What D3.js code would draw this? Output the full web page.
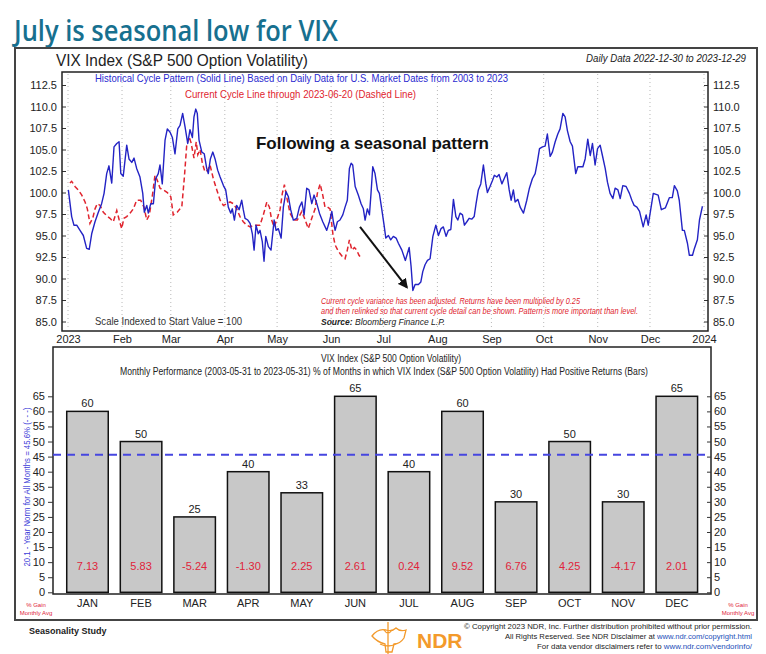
<!DOCTYPE html>
<html><head><meta charset="utf-8">
<script src="https://cdn.jsdelivr.net/npm/d3@7"></script>
<style>
body{margin:0;background:#fff;}
svg{display:block;font-family:"Liberation Sans",Arial,sans-serif;}
</style>
</head><body>
<svg id="c" width="766" height="654"></svg>
<script>
// ---------------- DATA ----------------
// Historical cycle pattern (solid) : [day of year 2023, indexed value]
const historicalCycle = [[0.2,100.3],[2.1,97.2],[3.4,96.2],[5,96.2],[6.9,95.6],[8.8,95.0],[10.7,93.5],[12.2,93.4],[13.6,95.2],[15.5,96.6],[17.4,97.7],[19.3,98.7],[20.7,99.9],[22.2,102.2],[23.5,103.1],[25.1,101.1],[26.4,105.3],[28,105.7],[29.3,105.9],[30.3,102.2],[31.7,101.9],[33.7,105.5],[35,103.9],[36.6,103.5],[37.9,104.0],[39.4,102.8],[41.3,101.8],[42.9,99.9],[43.8,97.7],[45.2,98.5],[46.1,97.6],[47.5,98.7],[49,98.7],[50.3,101.6],[51.8,102.2],[52.8,103.2],[54.1,101.0],[55.7,106.1],[57,107.4],[58.6,107.0],[59.9,106.4],[61.4,104.5],[63,107.4],[64.3,107.8],[65.8,109.2],[67.2,107.6],[68.7,105.7],[70,107.3],[71.4,106.4],[72.3,108.8],[73.3,109.7],[74.2,109.2],[75.2,106.1],[76.8,104.7],[78.2,104.5],[79.6,102.8],[80.5,102.2],[81.7,103.9],[83.1,104.7],[84.4,103.9],[85.9,102.6],[87.3,101.8],[89.2,100.8],[90.5,100.3],[92,98.3],[93.4,97.6],[94.3,98.1],[95.5,96.8],[96.8,98.5],[98.2,98.0],[99.7,99.1],[100.6,98.0],[101.6,97.0],[103.2,96.8],[104.5,96.4],[105.8,95.2],[106.8,93.3],[107.9,96.2],[109.2,95.2],[110.2,95.6],[111.5,94.3],[112.5,92.0],[113.5,94.9],[115,93.7],[116.5,93.3],[118.3,96.8],[119.4,95.6],[120.7,95.8],[122.3,94.7],[123.6,98.3],[125.1,100.1],[126.5,99.5],[127.8,98.0],[129.3,96.8],[131.3,97.0],[132.8,98.3],[134.2,98.9],[135.5,97.4],[137,100.5],[138.3,100.3],[139.9,98.7],[141.2,99.7],[142.8,98.7],[144.3,97.6],[146.2,96.6],[148.5,95.6],[150,96.6],[151.4,97.8],[152.3,96.6],[153.3,95.6],[154.6,96.6],[156.1,96.8],[157.7,97.4],[159,98.3],[160.3,99.1],[161.5,102.8],[162.5,103.4],[163.4,103.2],[164.8,100.7],[166.6,99.7],[168.2,98.7],[169.5,98.1],[170.5,96.8],[171.8,98.1],[173,97.4],[173.9,99.9],[174.9,103.0],[176.2,102.2],[177.6,100.3],[178.7,99.9],[180.1,98.0],[181.4,96.2],[182.4,94.7],[183.9,95.0],[185.2,94.5],[186.7,94.9],[188.3,94.7],[189.6,94.1],[191.6,93.3],[193.6,92.1],[195.8,93.6],[196.9,91.4],[197.9,88.6],[199.2,89.3],[201.1,89.3],[202.5,89.6],[203.6,90.8],[204.9,91.6],[206.3,92.1],[207.8,92.3],[209.4,94.9],[211.1,96.2],[212.6,95.0],[214.1,95.8],[215.4,96.0],[217,94.9],[218.3,95.6],[219.7,95.7],[221.2,99.2],[222.6,97.2],[223.7,96.8],[225,97.6],[226.4,97.4],[227.5,96.2],[228.9,96.6],[230.2,97.0],[231.7,96.9],[233.1,97.2],[234.2,98.7],[235.5,100.3],[236.9,101.0],[238.4,103.2],[239.8,101.0],[240.7,100.0],[242.2,100.7],[243.6,101.4],[244.7,102.0],[246.1,101.8],[247.4,102.1],[249,101.0],[250.3,101.6],[251.8,102.3],[253.2,100.3],[254.3,99.1],[255.6,100.3],[256.6,98.9],[258.2,99.2],[259.5,98.3],[261.4,97.6],[263.3,99.1],[264.8,100.5],[266.5,101.6],[268.1,102.2],[269.4,103.6],[270.6,105.1],[272.3,105.3],[273.8,105.4],[275.1,106.8],[276.7,104.2],[278,104.7],[279.6,105.9],[281.1,106.8],[282.4,107.4],[284,109.2],[285.3,108.8],[286.6,107.2],[288.2,105.9],[289.5,105.4],[290.5,103.7],[291.4,102.2],[292.6,103.0],[293.9,103.0],[295.5,103.0],[296.8,103.9],[298.3,106.2],[299.7,104.3],[301,105.7],[302.5,103.2],[303.9,105.1],[305.4,105.5],[306.7,104.3],[308.3,102.8],[309.6,101.2],[311.1,99.9],[312.7,99.3],[314,100.5],[315.6,100.3],[316.9,99.3],[318.4,100.8],[320.3,100.7],[322.2,99.9],[323.6,99.1],[324.9,98.5],[326.5,98.3],[328,97.8],[330.1,96.0],[331.8,97.4],[333,96.2],[335.9,99.9],[338.7,99.7],[340.5,98.0],[342.8,98.2],[345.1,99.4],[346.8,99.4],[348,100.8],[349.7,100.2],[350.8,99.1],[352.6,95.6],[353.7,95.6],[355.5,94.1],[356.6,92.7],[358.4,92.7],[359.5,93.5],[361.2,94.5],[362.4,96.8],[364.1,98.4]];

// Current cycle through 2023-06-20 (dashed) : [day of year 2023, indexed value]
const currentCycle = [[1.1,101.1],[2.1,101.3],[4,100.7],[5.9,100.3],[7.9,99.7],[9.8,98.9],[11.1,98.1],[12.6,96.4],[14.2,97.0],[15.5,98.1],[16.8,98.7],[18.4,98.5],[20.3,97.7],[22.2,97.3],[24.1,97.0],[26,96.6],[28,97.9],[29.4,96.8],[30.8,95.8],[32.1,97.0],[33.7,97.2],[35.6,97.6],[37.5,98.1],[39.4,99.1],[41.7,99.1],[43.6,98.3],[45.2,96.8],[46.7,97.4],[48.6,99.9],[49.9,102.0],[51.3,101.4],[52.8,100.5],[54.7,100.3],[57,100.0],[59,99.5],[60.4,97.4],[62.7,97.7],[64.3,98.1],[65.3,98.3],[66.8,101.8],[68.1,105.4],[69.5,106.5],[70.6,105.8],[72.3,104.0],[73.6,105.9],[74.5,104.4],[75.8,105.0],[77.1,103.4],[78.6,102.4],[80.2,102.6],[81.5,103.2],[83.4,101.6],[85.4,100.3],[87.3,99.1],[89.2,98.5],[91.1,98.7],[93,98.9],[94.9,98.7],[96.8,98.1],[98.7,97.2],[100.6,96.6],[102.6,96.2],[104.5,96.0],[106.4,96.2],[108.3,96.2],[110.2,96.2],[112.1,97.4],[114.1,98.9],[115.6,98.3],[116.9,96.8],[118.3,96.0],[119.8,96.8],[121.7,98.0],[123,99.9],[124.2,100.9],[125.5,99.5],[127.4,97.6],[129.7,96.8],[131.6,96.8],[134.2,97.8],[136.1,96.8],[137.9,95.8],[139.9,97.0],[141.8,98.1],[143.1,99.9],[144.7,101.0],[146.2,99.7],[147.5,98.3],[148.9,98.3],[150.4,98.1],[152,95.2],[153.3,93.9],[154.8,93.3],[156.1,92.9],[157.7,92.5],[159,92.3],[160.3,93.3],[161.5,94.5],[162.9,93.3],[164.4,93.6],[165.7,93.3],[167,92.7],[168.6,92.3]];

const topTicks = [85.0,87.5,90.0,92.5,95.0,97.5,100.0,102.5,105.0,107.5,110.0,112.5];
const monthTickLabels = ["2023","Feb","Mar","Apr","May","Jun","Jul","Aug","Sep","Oct","Nov","Dec","2024"];

const months = ["JAN","FEB","MAR","APR","MAY","JUN","JUL","AUG","SEP","OCT","NOV","DEC"];
const pctPositive = [60,50,25,40,33,65,40,60,30,50,30,65];
const avgGain = ["7.13","5.83","-5.24","-1.30","2.25","2.61","0.24","9.52","6.76","4.25","-4.17","2.01"];
const normPct = 45.6;
const barTicks = [0,5,10,15,20,25,30,35,40,45,50,55,60,65];
// arrow annotation endpoints in data units [day, value]
const arrowFrom = [167.6, 96.0], arrowTo = [194.4, 89.0];

// ---------------- DRAW ----------------
const svg = d3.select("#c");
const dayToDate = d => new Date(Date.UTC(2023,0,1) + d*86400000);

function fit(sel, w){ sel.attr("textLength", w).attr("lengthAdjust","spacingAndGlyphs"); return sel; }

// right-aligned line made of several coloured pieces, squeezed to a target width
function piecesLine(xr, yb, pieces, target, size){
  const els = pieces.map(p => svg.append("text").attr("y",yb).attr("font-size",size).attr("fill",p[1])
    .style("white-space","pre").text(p[0].replace(/ /g,"\u00a0")));
  const nat = els.map(e => e.node().getComputedTextLength());
  const tot = d3.sum(nat), k = target / tot;
  let cur = xr - target;
  els.forEach((e,i)=>{ const w = nat[i]*k; e.attr("x",cur); fit(e,w); cur += w; });
}

// Title
fit(svg.append("text").attr("x",14).attr("y",41).attr("fill","#17708f")
  .attr("font-family","'Open Sans',sans-serif").attr("font-weight",600).attr("font-size",29)
  .text("July is seasonal low for VIX"), 324);

// outer frame
svg.append("rect").attr("x",15).attr("y",48).attr("width",742).attr("height",572)
  .attr("fill","#fff").attr("stroke","#444").attr("stroke-width",2);

fit(svg.append("text").attr("x",56).attr("y",66).attr("fill","#222").attr("font-size",17)
  .text("VIX Index (S&P 500 Option Volatility)"), 252);
fit(svg.append("text").attr("x",586).attr("y",62).attr("fill","#222").attr("font-size",10)
  .attr("font-style","italic").text("Daily Data 2022-12-30 to 2023-12-29"), 160);

// ---- top line chart ----
const T = {l:62, r:708, t:72, b:331};
const x = d3.scaleUtc().domain([new Date(Date.UTC(2023,0,1)), new Date(Date.UTC(2024,0,1))]).range([68,704]);
const y = d3.scaleLinear().domain([85,112.5]).range([321.5,85]);
const monthDates = d3.utcMonth.range(new Date(Date.UTC(2023,0,1)), new Date(Date.UTC(2024,0,2)));

svg.append("g").selectAll("line").data(monthDates).join("line")
  .attr("x1",d=>x(d)).attr("x2",d=>x(d)).attr("y1",T.t+2).attr("y2",T.b-1)
  .attr("stroke","#b8b8b8").attr("stroke-dasharray","1,3");

const yl = svg.append("g").attr("transform",`translate(${T.l},0)`)
  .call(d3.axisLeft(y).tickValues(topTicks).tickFormat(d3.format(".1f")).tickSize(-4).tickPadding(5));
const yr = svg.append("g").attr("transform",`translate(${T.r},0)`)
  .call(d3.axisRight(y).tickValues(topTicks).tickFormat(d3.format(".1f")).tickSize(-4).tickPadding(5));
const xa = svg.append("g").attr("transform",`translate(0,${T.b})`)
  .call(d3.axisBottom(x).tickValues(monthDates).tickFormat((d,i)=>monthTickLabels[i]).tickSize(0).tickPadding(4));
[yl,yr,xa].forEach(g=>{
  g.select(".domain").remove();
  g.selectAll("text").attr("font-size",11).attr("fill","#222").attr("font-family","'Liberation Sans',Arial,sans-serif");
  g.selectAll("line").attr("stroke","#333");
});

svg.append("rect").attr("x",T.l).attr("y",T.t).attr("width",T.r-T.l).attr("height",T.b-T.t)
  .attr("fill","none").attr("stroke","#222").attr("stroke-width",1.5);

const line = d3.line().x(d=>x(dayToDate(d[0]))).y(d=>y(d[1]));
svg.append("path").datum(currentCycle).attr("d",line).attr("fill","none")
  .attr("stroke","#e0242e").attr("stroke-width",1.5).attr("stroke-dasharray","5,3");
svg.append("path").datum(historicalCycle).attr("d",line).attr("fill","none")
  .attr("stroke","#2323c4").attr("stroke-width",1.4).attr("stroke-linejoin","round");

fit(svg.append("text").attr("x",95).attr("y",82).attr("fill","#2a2ad0").attr("font-size",11)
  .text("Historical Cycle Pattern (Solid Line) Based on Daily Data for U.S. Market Dates from 2003 to 2023"), 413);
fit(svg.append("text").attr("x",185).attr("y",98).attr("fill","#e0242e").attr("font-size",11)
  .text("Current Cycle Line through 2023-06-20 (Dashed Line)"), 231);

fit(svg.append("text").attr("x",256).attr("y",149).attr("fill","#111").attr("font-size",17)
  .attr("font-weight","bold").text("Following a seasonal pattern"), 233);

// arrow
const defs = svg.append("defs");
defs.append("marker").attr("id","ah").attr("viewBox","0 0 10 10").attr("refX",8).attr("refY",5)
  .attr("markerWidth",5).attr("markerHeight",5).attr("orient","auto")
  .append("path").attr("d","M0,0L10,5L0,10z").attr("fill","#111");
svg.append("line").attr("x1",x(dayToDate(arrowFrom[0]))).attr("y1",y(arrowFrom[1]))
  .attr("x2",x(dayToDate(arrowTo[0]))).attr("y2",y(arrowTo[1]))
  .attr("stroke","#111").attr("stroke-width",2).attr("marker-end","url(#ah)");

fit(svg.append("text").attr("x",321).attr("y",304).attr("fill","#e0242e").attr("font-size",8.5).attr("font-style","italic")
  .text("Current cycle variance has been adjusted. Returns have been multiplied by 0.25"), 259);
fit(svg.append("text").attr("x",321).attr("y",314).attr("fill","#e0242e").attr("font-size",8.5).attr("font-style","italic")
  .text("and then relinked so that current cycle detail can be shown. Pattern is more important than level."), 317);
const src = svg.append("text").attr("x",321).attr("y",324.5).attr("fill","#222").attr("font-size",8.5).attr("font-style","italic");
src.append("tspan").attr("font-weight","bold").text("Source:");
src.append("tspan").text(" Bloomberg Finance L.P.");

fit(svg.append("text").attr("x",95).attr("y",325).attr("fill","#333").attr("font-size",11.5)
  .text("Scale Indexed to Start Value = 100"), 147);

// ---- bottom bar chart ----
const B = {l:53, r:711, t:347, b:594};
const yb = d3.scaleLinear().domain([0,65]).range([592.3,396.3]);
const xb = d3.scaleBand().domain(months).range([60.7,703.6]).paddingInner(0.225).paddingOuter(0.1125);

svg.append("rect").attr("x",B.l).attr("y",B.t).attr("width",B.r-B.l).attr("height",B.b-B.t)
  .attr("fill","#fff").attr("stroke","#222").attr("stroke-width",1.5);

fit(svg.append("text").attr("x",391).attr("y",362).attr("text-anchor","middle").attr("fill","#222").attr("font-size",10)
  .text("VIX Index (S&P 500 Option Volatility)"), 140);
fit(svg.append("text").attr("x",384).attr("y",375).attr("text-anchor","middle").attr("fill","#222").attr("font-size",10)
  .text("Monthly Performance (2003-05-31 to 2023-05-31) % of Months in which VIX Index (S&P 500 Option Volatility) Had Positive Returns (Bars)"), 528);

const bl = svg.append("g").attr("transform",`translate(${B.l},0)`)
  .call(d3.axisLeft(yb).tickValues(barTicks).tickSize(5).tickPadding(3));
const br = svg.append("g").attr("transform",`translate(${B.r},0)`)
  .call(d3.axisRight(yb).tickValues(barTicks).tickSize(-4).tickPadding(3));
[bl,br].forEach(g=>{
  g.select(".domain").remove();
  g.selectAll("text").attr("font-size",11).attr("fill","#222").attr("font-family","'Liberation Sans',Arial,sans-serif");
  g.selectAll("line").attr("stroke","#333");
});

svg.append("g").selectAll("rect").data(months).join("rect")
  .attr("x",d=>xb(d)).attr("width",xb.bandwidth())
  .attr("y",(d,i)=>yb(pctPositive[i])).attr("height",(d,i)=>yb(0)-yb(pctPositive[i]))
  .attr("fill","#c8c8c8").attr("stroke","#111").attr("stroke-width",1.5);

svg.append("g").selectAll("text").data(months).join("text")
  .attr("x",d=>xb(d)+xb.bandwidth()/2).attr("y",(d,i)=>yb(pctPositive[i])-4)
  .attr("text-anchor","middle").attr("font-size",11).attr("fill","#222")
  .text((d,i)=>pctPositive[i]);

svg.append("g").selectAll("text").data(months).join("text")
  .attr("x",d=>xb(d)+xb.bandwidth()/2).attr("y",yb(0)-22)
  .attr("text-anchor","middle").attr("font-size",11).attr("fill","#e0243a")
  .text((d,i)=>avgGain[i]);

svg.append("g").selectAll("text").data(months).join("text")
  .attr("x",d=>xb(d)+xb.bandwidth()/2).attr("y",607)
  .attr("text-anchor","middle").attr("font-size",11).attr("fill","#222")
  .text(d=>d);

svg.append("line").attr("x1",B.l).attr("x2",B.r).attr("y1",yb(normPct)).attr("y2",yb(normPct))
  .attr("stroke","#4646e0").attr("stroke-width",2).attr("stroke-dasharray","8,6");

fit(svg.append("text").attr("transform","translate(30,487) rotate(-90)").attr("text-anchor","middle")
  .attr("fill","#3c3cd8").attr("font-size",9)
  .text("20.1 - Year Norm for All Months = 45.6% (- - -)"), 159);

[[36],[738]].forEach(([cx])=>{
  svg.append("text").attr("x",cx).attr("y",607).attr("text-anchor","middle").attr("font-size",6).attr("fill","#e0243a").text("% Gain");
  svg.append("text").attr("x",cx).attr("y",615).attr("text-anchor","middle").attr("font-size",6).attr("fill","#e0243a").text("Monthly Avg");
});

// ---- footer ----
svg.append("text").attr("x",29).attr("y",634).attr("font-size",9).attr("font-weight","bold").attr("fill","#222").text("Seasonality Study");

const fr = 752;
piecesLine(fr, 629, [["© Copyright 2023 NDR, Inc. Further distribution prohibited without prior permission.","#222"]], 288, 8);
piecesLine(fr, 639, [["All Rights Reserved. See NDR Disclaimer at ","#222"],["www.ndr.com/copyright.html","#1d4fb8"]], 247, 8);
piecesLine(fr, 649, [["For data vendor disclaimers refer to ","#222"],["www.ndr.com/vendorinfo/","#1d4fb8"]], 215, 8);

// NDR logo
const lg = svg.append("g").attr("fill","none").attr("stroke","#f39a2b").attr("stroke-width",1.3);
lg.append("path").attr("d","M372,636 q6,-8 14,-6 q6,2 10,-2 q4,4 10,2 l-2,8 q-4,6 -10,6 l-2,8 l-6,0 l-1,-8 q-8,-2 -13,-8z");
lg.append("path").attr("d","M388,622 l0,32 M384,630 q4,6 8,0 M380,644 q8,4 16,0");
svg.append("text").attr("x",417).attr("y",648).attr("font-size",21).attr("font-weight","bold")
  .attr("fill","#f39a2b").text("NDR");
</script>
</body></html>
